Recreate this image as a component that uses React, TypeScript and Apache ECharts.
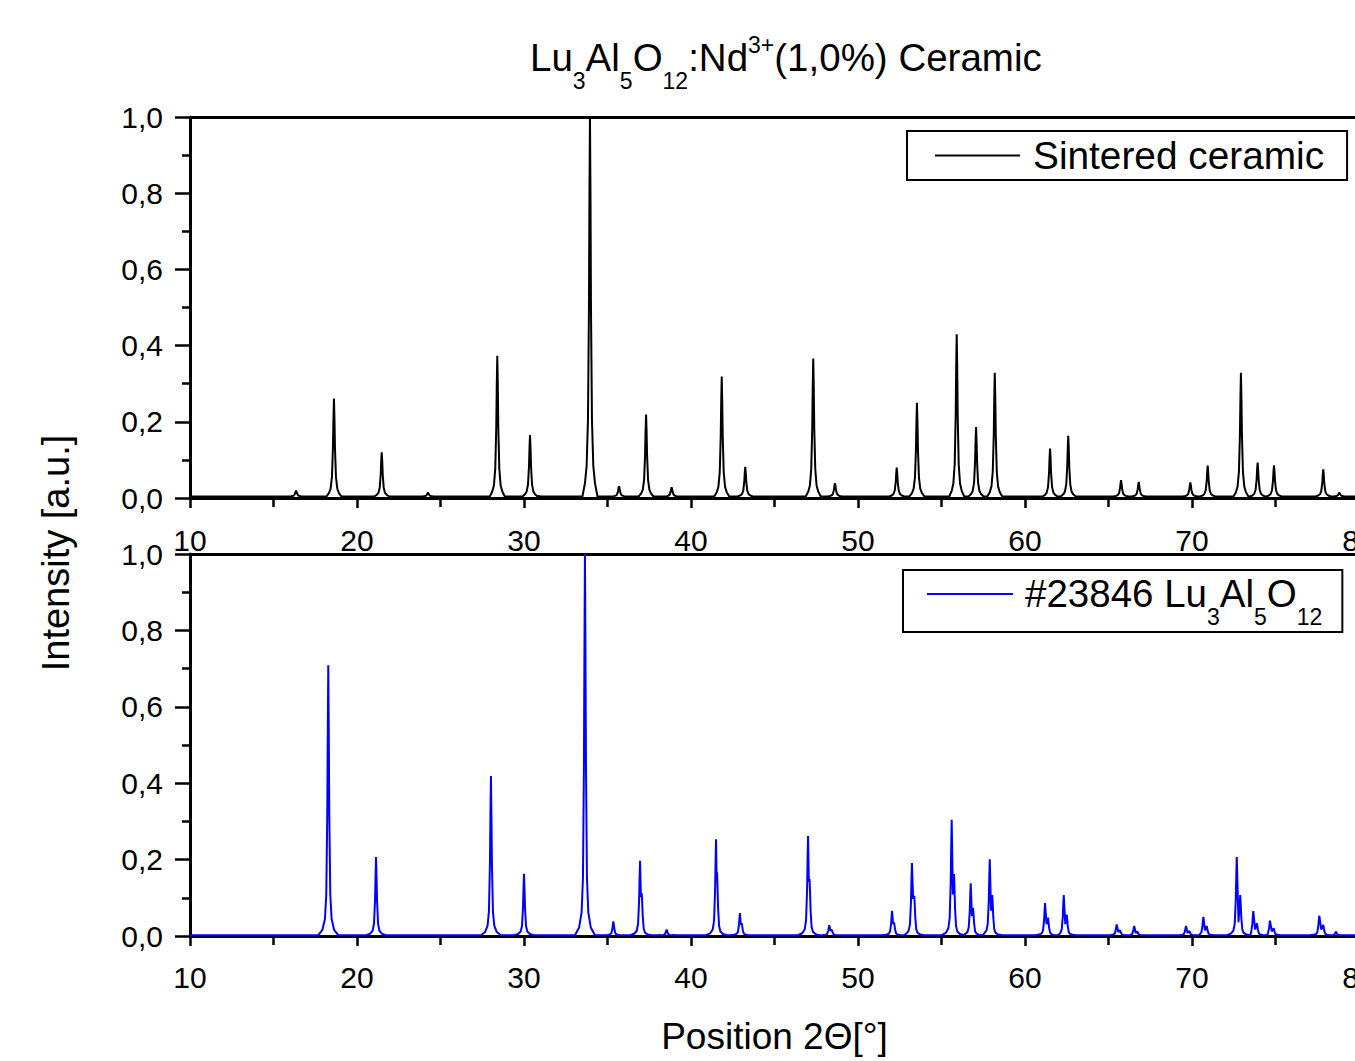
import React, { useEffect, useRef } from "react";
import * as echarts from "echarts";

// ---- axes ----
const X_MIN = 10;
const X_MAX = 80;
const X_STEP = 10;
const Y_MIN = 0;
const Y_MAX = 1;
const Y_STEP = 0.2;

// ---- Sintered ceramic (measured pattern): peak positions (2θ) and intensities ----
const samplePos = [16.35, 18.62, 21.48, 24.25, 28.4, 30.36, 30.66, 33.95, 35.69, 37.31, 38.84, 41.84, 43.25, 47.32, 48.62, 52.32, 53.53, 55.91, 57.07, 58.19, 61.5, 62.59, 65.75, 66.81, 69.9, 70.94, 72.93, 73.93, 74.91, 77.86, 78.82];
const sampleHeight = [0.015, 0.257, 0.116, 0.01, 0.369, 0.161, 0.012, 1.0, 0.027, 0.215, 0.024, 0.315, 0.078, 0.362, 0.035, 0.076, 0.246, 0.426, 0.182, 0.325, 0.126, 0.159, 0.043, 0.038, 0.037, 0.081, 0.325, 0.089, 0.082, 0.071, 0.01];
const sampleBase = 0.004;

// ---- #23846 Lu3Al5O12 reference pattern: Kα1 peaks, Kα2 shoulders, dips between ----
const refPos = [18.28, 21.14, 28.02, 30.0, 33.65, 35.35, 36.95, 38.54, 41.5, 42.93, 47.01, 48.28, 52.04, 53.23, 55.61, 56.75, 57.89, 61.2, 62.32, 65.49, 66.54, 69.64, 70.68, 72.68, 73.67, 74.67, 77.62, 78.62];
const refHeight = [0.707, 0.205, 0.417, 0.161, 1.0, 0.036, 0.195, 0.015, 0.251, 0.058, 0.26, 0.026, 0.064, 0.189, 0.302, 0.136, 0.199, 0.084, 0.105, 0.028, 0.024, 0.024, 0.048, 0.205, 0.063, 0.038, 0.051, 0.009];
const refShoulderPos = [null, null, null, null, null, null, 37.05, null, 41.56, 43.04, 47.1, 48.43, 52.16, 53.37, 55.75, 56.89, 58.04, 61.38, 62.5, 65.69, 66.72, 69.84, 70.88, 72.89, 73.89, 74.89, 77.86, null];
const refShoulderHeight = [null, null, null, null, null, null, 0.11, null, 0.165, 0.031, 0.147, 0.014, 0.033, 0.103, 0.16, 0.072, 0.105, 0.046, 0.054, 0.013, 0.01, 0.011, 0.024, 0.105, 0.031, 0.018, 0.027, null];
const refDip = [null, null, null, null, null, null, 0.1, null, 0.16, 0.028, 0.14, 0.012, 0.03, 0.095, 0.107, 0.05, 0.064, 0.029, 0.029, 0.008, 0.006, 0.006, 0.013, 0.034, 0.015, 0.01, 0.015, null];
const refBase = 0.002;

// ---- peak profile templates (offset from centre in degrees, fraction of peak height) ----
const sampleProfileOffset = [0.03, 0.06, 0.12, 0.2, 0.3, 0.45];
const sampleProfileFrac = [0.8, 0.5, 0.2, 0.08, 0.035, 0];
const refProfileOffset = [0.03, 0.06, 0.12, 0.2, 0.35, 0.6];
const refProfileFrac = [0.75, 0.45, 0.15, 0.06, 0.02, 0];

const FONT = "'Liberation Sans', Arial, Helvetica, sans-serif";

function buildTrace(
  pos: number[],
  h: number[],
  shPos: (number | null)[] | null,
  shH: (number | null)[] | null,
  dip: (number | null)[] | null,
  offs: number[],
  fracs: number[],
  base: number
): number[][] {
  const pts: number[][] = [[X_MIN, base]];
  const push = (x: number, y: number) => {
    if (x > pts[pts.length - 1][0]) pts.push([x, y]);
  };
  for (let i = 0; i < pos.length; i++) {
    const p = pos[i];
    const a = h[i];
    for (let k = offs.length - 1; k >= 0; k--) push(p - offs[k], base + a * fracs[k]);
    push(p, base + a);
    let endP = p;
    let endH = a;
    if (shPos && shPos[i] != null && shH && dip) {
      const sp = shPos[i] as number;
      push((p + sp) / 2, base + (dip[i] as number));
      push(sp, base + (shH[i] as number));
      endP = sp;
      endH = shH[i] as number;
    }
    for (let k = 0; k < offs.length; k++) push(endP + offs[k], base + endH * fracs[k]);
  }
  push(X_MAX, base);
  return pts;
}

const fmtY = (v: number) => v.toFixed(1).replace(".", ",");

function mainX(gridIndex: number, labelMargin: number, extra: any = {}) {
  return {
    type: "value",
    gridIndex,
    min: X_MIN,
    max: X_MAX,
    interval: X_STEP,
    position: "bottom",
    axisLine: { show: true, onZero: false, lineStyle: { color: "#000", width: 3 } },
    axisTick: { show: true, length: 10, lineStyle: { color: "#000", width: 2.5 } },
    minorTick: { show: true, splitNumber: 2, length: 9, lineStyle: { color: "#000", width: 2.5 } },
    axisLabel: { show: true, margin: labelMargin, fontSize: 30, fontFamily: FONT, color: "#000" },
    splitLine: { show: false },
    minorSplitLine: { show: false },
    ...extra,
  };
}

function frameX(gridIndex: number) {
  return {
    type: "value",
    gridIndex,
    min: X_MIN,
    max: X_MAX,
    position: "top",
    axisLine: { show: true, onZero: false, lineStyle: { color: "#000", width: 3 } },
    axisTick: { show: false },
    axisLabel: { show: false },
    splitLine: { show: false },
  };
}

function mainY(gridIndex: number) {
  return {
    type: "value",
    gridIndex,
    min: Y_MIN,
    max: Y_MAX,
    interval: Y_STEP,
    position: "left",
    axisLine: { show: true, onZero: false, lineStyle: { color: "#000", width: 3 } },
    axisTick: { show: true, length: 15, lineStyle: { color: "#000", width: 2.5 } },
    minorTick: { show: true, splitNumber: 2, length: 8, lineStyle: { color: "#000", width: 2.5 } },
    axisLabel: { show: true, margin: 27, fontSize: 30, fontFamily: FONT, color: "#000", formatter: fmtY },
    splitLine: { show: false },
    minorSplitLine: { show: false },
  };
}

const SAMPLE_NAME = "Sintered ceramic";
const REF_NAME = "#23846 Lu3Al5O12";

export default function App() {
  const ref = useRef<HTMLDivElement>(null);

  useEffect(() => {
    if (!ref.current) return;
    const chart = echarts.init(ref.current, undefined, { renderer: "svg" });

    const sampleData = buildTrace(samplePos, sampleHeight, null, null, null, sampleProfileOffset, sampleProfileFrac, sampleBase);
    const refData = buildTrace(refPos, refHeight, refShoulderPos, refShoulderHeight, refDip, refProfileOffset, refProfileFrac, refBase);

    const base = { fontFamily: FONT, color: "#000", fontWeight: "normal" };
    const mainRich = { ...base, fontSize: 38.5, lineHeight: 40, padding: [5, 0, 0, 0], verticalAlign: "top" };
    const subRich = { ...base, fontSize: 23, lineHeight: 22, padding: [36, 0, 0, 0], verticalAlign: "top" };
    const supRich = { ...base, fontSize: 23, lineHeight: 20, verticalAlign: "top" };

    const option: any = {
      animation: false,
      backgroundColor: "#fff",
      title: {
        text: "{m|Lu}{s|3}{m|Al}{s|5}{m|O}{s|12}{m|:Nd}{p|3+}{m|(1,0%) Ceramic}",
        left: 525,
        top: 28,
        textStyle: { fontWeight: "normal", fontFamily: FONT, color: "#000", rich: { m: mainRich, s: subRich, p: supRich } },
      },
      grid: [
        { left: 190, top: 117, width: 1169, height: 381, containLabel: false },
        { left: 190, top: 554, width: 1169, height: 382, containLabel: false },
      ],
      xAxis: [
        mainX(0, 27),
        frameX(0),
        mainX(1, 26, {
          name: "Position 2Θ[°]",
          nameLocation: "middle",
          nameGap: 82,
          nameTextStyle: { fontSize: 37, fontFamily: FONT, color: "#000" },
        }),
        frameX(1),
      ],
      yAxis: [mainY(0), mainY(1)],
      legend: [
        {
          data: [SAMPLE_NAME],
          left: 907,
          top: 131,
          orient: "horizontal",
          icon: "rect",
          itemWidth: 85,
          itemHeight: 2,
          padding: [2, 23, 2, 28],
          borderColor: "#000",
          borderWidth: 2,
          borderRadius: 0,
          backgroundColor: "#fff",
          selectedMode: false,
          textStyle: { fontSize: 38.8, fontFamily: FONT, color: "#000", lineHeight: 45, padding: [0, 0, 0, 8] },
        },
        {
          data: [REF_NAME],
          left: 903,
          top: 570,
          orient: "horizontal",
          icon: "rect",
          itemWidth: 86,
          itemHeight: 2,
          padding: [4, 20, 4, 24],
          borderColor: "#000",
          borderWidth: 2,
          borderRadius: 0,
          backgroundColor: "#fff",
          selectedMode: false,
          formatter: () => "{m|#23846 Lu}{s|3}{m|Al}{s|5}{m|O}{s|12}",
          textStyle: {
            padding: [0, 0, 0, 7],
            rich: {
              m: { fontSize: 38.5, fontFamily: FONT, color: "#000", lineHeight: 40, verticalAlign: "top" },
              s: { fontSize: 23, fontFamily: FONT, color: "#000", lineHeight: 22, padding: [31, 0, 0, 0], verticalAlign: "top" },
            },
          },
        },
      ],
      graphic: [
        {
          type: "text",
          x: 56,
          y: 553,
          rotation: Math.PI / 2,
          style: {
            text: "Intensity [a.u.]",
            fontSize: 38,
            fontFamily: FONT,
            fill: "#000",
            align: "center",
            verticalAlign: "middle",
          },
        },
      ],
      series: [
        {
          name: SAMPLE_NAME,
          type: "line",
          xAxisIndex: 0,
          yAxisIndex: 0,
          data: sampleData,
          showSymbol: false,
          symbol: "none",
          color: "#000",
          itemStyle: { color: "#000" },
          lineStyle: { color: "#000", width: 2 },
          clip: true,
          z: 3,
        },
        {
          name: REF_NAME,
          type: "line",
          xAxisIndex: 2,
          yAxisIndex: 1,
          data: refData,
          showSymbol: false,
          symbol: "none",
          color: "#0000ff",
          itemStyle: { color: "#0000ff" },
          lineStyle: { color: "#0000ff", width: 2 },
          clip: true,
          z: 3,
        },
      ],
    };

    chart.setOption(option);
    return () => chart.dispose();
  }, []);

  return (
    <div style={{ position: "fixed", left: 0, top: 0, width: 1355, height: 1061, overflow: "hidden", background: "#fff" }}>
      <div ref={ref} style={{ width: 1400, height: 1061 }} />
    </div>
  );
}
